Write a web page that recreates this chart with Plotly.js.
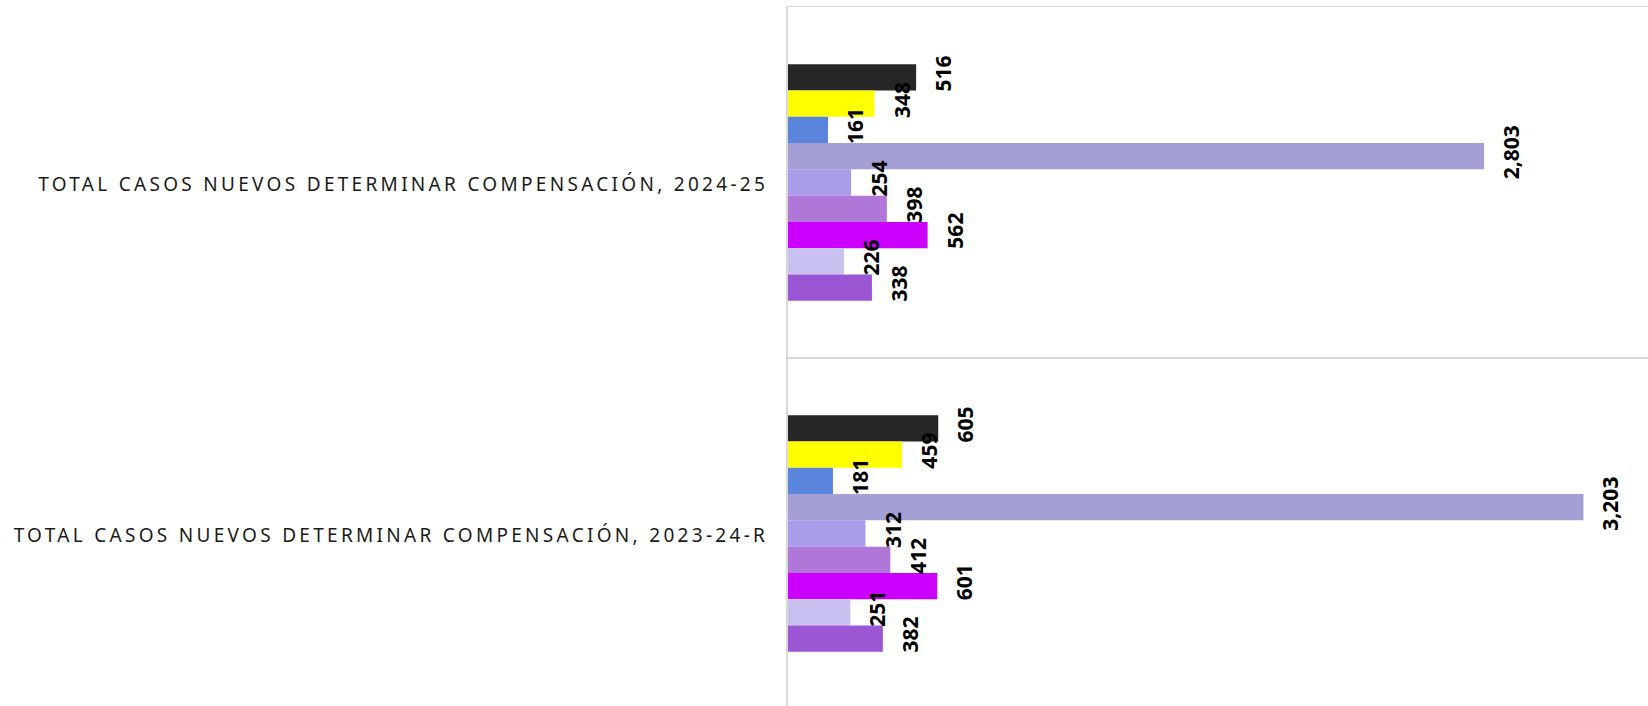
<!DOCTYPE html>
<html>
<head>
<meta charset="utf-8">
<script src="https://cdn.plot.ly/plotly-3.0.1.min.js"></script>
<style>
  html, body { margin: 0; padding: 0; overflow: hidden; background: #fff; }
  #chart { width: 1648px; height: 720px; }
  .ytick text { letter-spacing: 3.3px; }
</style>
</head>
<body>
<div id="chart"></div>
<script>
// Categories (top to bottom)
const categories = [
  "TOTAL CASOS NUEVOS DETERMINAR COMPENSACIÓN, 2024-25",
  "TOTAL CASOS NUEVOS DETERMINAR COMPENSACIÓN, 2023-24-R"
];

// Series (top to bottom inside each group)
const seriesNames = ["Serie 1", "Serie 2", "Serie 3", "Serie 4", "Serie 5", "Serie 6", "Serie 7", "Serie 8", "Serie 9"];
const seriesColors = ["#262626", "#ffff00", "#5a85dc", "#a49fd4", "#a99de9", "#b077d9", "#cc00ff", "#c9c0f0", "#9b57d3"];

const values2024_25   = [516, 348, 161, 2803, 254, 398, 562, 226, 338];
const values2023_24_R = [605, 459, 181, 3203, 312, 412, 601, 251, 382];

const bargap = 0.326;
const nSeries = seriesNames.length;

const traces = seriesNames.map((name, i) => ({
  type: "bar",
  orientation: "h",
  name: name,
  y: categories,
  x: [values2024_25[i], values2023_24_R[i]],
  marker: { color: seriesColors[i], line: { width: 0 } },
  hoverinfo: "x+name"
}));

// Data labels: rotated, positioned at the end of each bar
const annotations = [];
const groupWidth = 1 - bargap;
[values2024_25, values2023_24_R].forEach((vals, c) => {
  vals.forEach((v, i) => {
    annotations.push({
      xref: "x", yref: "y",
      x: v,
      y: c - groupWidth / 2 + (i + 0.5) * groupWidth / nSeries,
      text: v.toLocaleString("en-US"),
      showarrow: false,
      textangle: -90,
      xanchor: "center", yanchor: "middle",
      xshift: 27, yshift: 4,
      font: { family: "Noto Sans, Open Sans, sans-serif", size: 21, color: "#000", weight: "bold" }
    });
  });
});

const layout = {
  width: 1648,
  height: 720,
  margin: { l: 788, r: 0, t: 7, b: 11, pad: 0 },
  paper_bgcolor: "#ffffff",
  plot_bgcolor: "#ffffff",
  barmode: "group",
  bargap: bargap,
  bargroupgap: 0,
  showlegend: false,
  xaxis: {
    range: [0, 3463],
    side: "top",
    showgrid: false,
    zeroline: false,
    showticklabels: false,
    ticks: "",
    showline: true,
    linecolor: "#d9d9d9",
    linewidth: 1.5,
    fixedrange: true
  },
  yaxis: {
    type: "category",
    categoryorder: "array",
    categoryarray: categories,
    autorange: "reversed",
    tickson: "boundaries",
    showgrid: true,
    gridcolor: "#d9d9d9",
    gridwidth: 1.5,
    showline: true,
    linecolor: "#d9d9d9",
    linewidth: 2,
    ticks: "",
    ticklabelstandoff: 14,
    ticklabelshift: -2,
    tickfont: { family: "Noto Sans, Open Sans, sans-serif", size: 19, color: "#1a1a1a" },
    fixedrange: true
  },
  annotations: annotations,
  font: { family: "Noto Sans, Open Sans, sans-serif" }
};

Plotly.newPlot("chart", traces, layout, { displayModeBar: false, staticPlot: true });
</script>
</body>
</html>
